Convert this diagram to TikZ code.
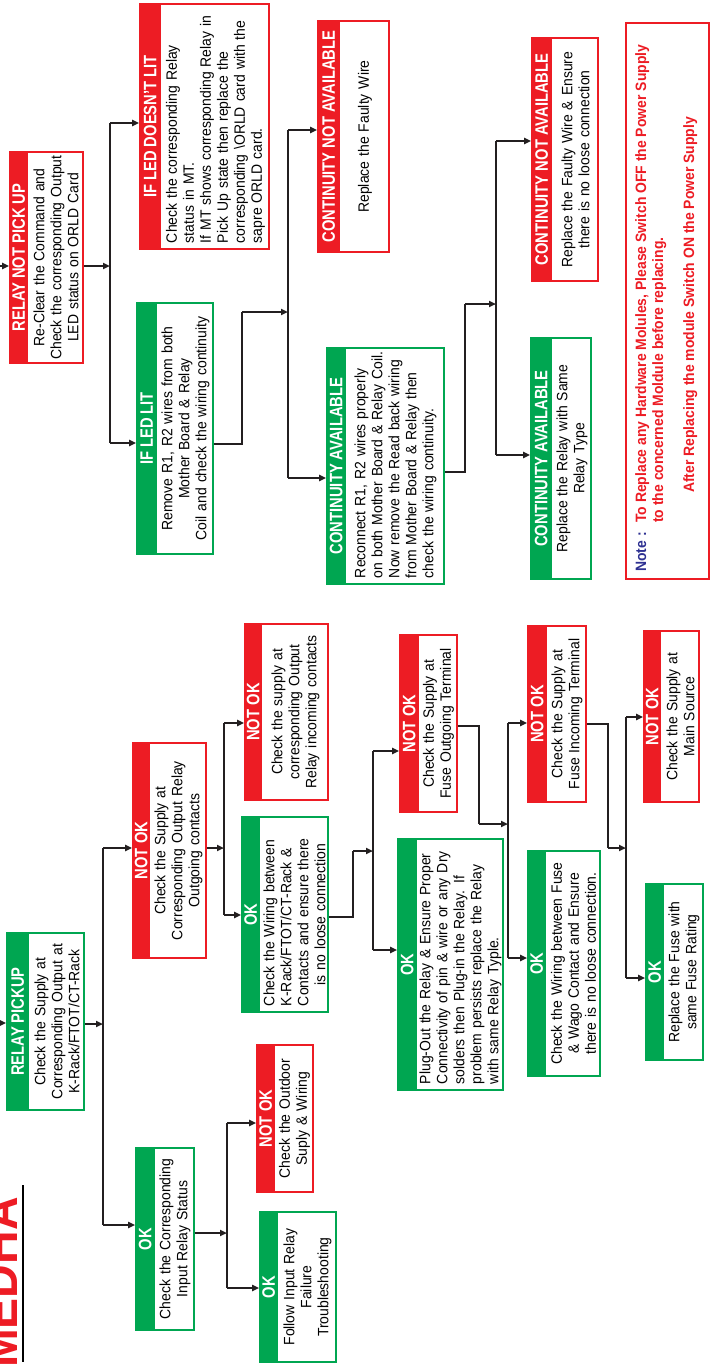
\documentclass[tikz,border=0pt]{standalone}
\usepackage{fontspec}
\setmainfont[FakeStretch=0.93]{Liberation Sans}
\newfontfamily\hdfont[FakeStretch=0.82]{Liberation Sans}
\usetikzlibrary{arrows.meta}
\definecolor{myred}{HTML}{ED1C24}
\definecolor{mygreen}{HTML}{00A651}
\definecolor{linec}{HTML}{231F20}
\definecolor{noteblue}{HTML}{2E3192}
\newcommand\jl[1]{\makebox[\hsize][s]{#1}}
\tikzset{
  boxfr/.style={draw, line width=1.6pt, inner sep=0pt, fill=white},
  hd/.style={rotate=90, text=white, inner sep=0pt, font=\hdfont\bfseries\fontsize{18}{19}\selectfont},
  bd/.style={rotate=90, inner sep=0pt, align=center, font=\fontsize{15}{17}\selectfont},
  nt/.style={rotate=90, inner sep=0pt, anchor=base west, font=\bfseries\fontsize{15}{17}\selectfont},
  ln/.style={draw=linec, line width=1.8pt},
  arr/.style={ln, -{Triangle[length=7pt,width=6pt]}},
}
% name, colour, cx, cy, w, h, header width, header
\newcommand\flowbox[8]{%
  \node[boxfr, draw=#2, minimum width=#5pt, minimum height=#6pt] (#1) at (#3,#4) {};
  \fill[#2] (#1.north west) rectangle ([xshift=#7pt]#1.south west);
  \node[hd] (#1-h) at ([xshift=#7pt/2]#1.west) {#8};
}
\begin{document}
\begin{tikzpicture}[x=1pt,y=-1pt]
\hyphenpenalty=10000 \exhyphenpenalty=10000
\fill[white] (0,0) rectangle (711,1365);
\useasboundingbox (0,0) rectangle (711,1365);

% ---------- logo ----------
\node[rotate=90, anchor=base west, inner sep=0pt, text=myred, font=\bfseries\fontsize{50}{50}\selectfont] (logo) at (17,1368) {MEDHA};
\draw[black, line width=1.2pt] (23,1185) -- (23,1362);

% ---------- upper part: relay not pick up ----------
\flowbox{T1}{myred}{46.5}{257.5}{73}{211}{19}{RELAY NOT PICK UP}
\node[bd, text width=207pt] at ([xshift=9.5pt]T1.center) {Re-Clear the Command and\\Check the corresponding Output\\LED status on ORLD Card};

\flowbox{T2}{myred}{204.5}{126.5}{129}{245}{22}{IF LED DOESN’T LIT}
\node[bd, align=left, text width=233pt] at ([xshift=11pt]T2.center) {\jl{Check the corresponding Relay}\\status in MT.\\\jl{If MT shows corresponding Relay in}\\\jl{Pick Up state then replace the}\\\jl{corresponding \textbackslash ORLD card with the}\\sapre ORLD card.};

\flowbox{T3}{mygreen}{175}{428.5}{76}{251}{21}{IF LED LIT}
\node[bd, text width=239pt] at ([xshift=10.5pt]T3.center) {Remove R1, R2 wires from both\\Mother Board \& Relay\\Coil and check the wiring continuity};

\flowbox{T4}{myred}{353.5}{136.5}{71}{231}{23}{CONTINUITY NOT AVAILABLE}
\node[bd, text width=219pt] at ([xshift=11.5pt]T4.center) {Replace the Faulty Wire};

\flowbox{T5}{mygreen}{385.5}{466}{117}{236}{20}{CONTINUITY AVAILABLE}
\node[bd, align=left, text width=224pt] at ([xshift=10pt]T5.center) {\jl{Reconnect R1, R2 wires properly}\\\jl{on both Mother Board \& Relay Coil.}\\\jl{Now remove the Read back wiring}\\\jl{from Mother Board \& Relay then}\\check the wiring continuity.};

\flowbox{T6}{myred}{565}{159.5}{66}{243}{21}{CONTINUITY NOT AVAILABLE}
\node[bd, text width=231pt] at ([xshift=10.5pt]T6.center) {Replace the Faulty Wire \& Ensure\\there is no loose connection};

\flowbox{T7}{mygreen}{561}{458.5}{60}{241}{22}{CONTINUITY AVAILABLE}
\node[bd, text width=229pt] at ([xshift=11pt]T7.center) {Replace the Relay with Same\\Relay Type};

% note
\node[boxfr, draw=myred, minimum width=83pt, minimum height=556pt] (note) at (667.5,301) {};
\node[nt, text=noteblue] (nt0) at (646,572) {Note :};
\node[nt, text=myred] (nt1) at (646,523) {To Replace any Hardware Molules, Please Switch OFF the Power Supply};
\node[nt, text=myred] (nt2) at (663,523) {to the concerned Moldule before replacing.};
\node[nt, text=myred] (nt3) at (694,493) {After Replacing the module Switch ON the Power Supply};

% ---------- lower part: relay pickup ----------
\flowbox{B1}{mygreen}{45.5}{1021.5}{77}{177}{23}{RELAY PICKUP}
\node[bd, text width=165pt] at ([xshift=11.5pt]B1.center) {Check the Supply at\\Corresponding Output at\\K-Rack/FTOT/CT-Rack};

\flowbox{B2}{mygreen}{165}{1239}{58}{182}{20}{OK}
\node[bd, text width=170pt] at ([xshift=10pt]B2.center) {Check the Corresponding\\Input Relay Status};

\flowbox{B3}{myred}{285}{1118.5}{56}{147}{19}{NOT OK}
\node[bd, text width=135pt] at ([xshift=9.5pt]B3.center) {Check the Outdoor\\Suply \& Wiring};

\flowbox{B4}{mygreen}{298}{1287}{76}{150}{19}{OK}
\node[bd, text width=138pt] at ([xshift=9.5pt]B4.center) {Follow Input Relay\\Failure\\Troubleshooting};

\flowbox{B5}{myred}{169.5}{850.5}{73}{215}{18}{NOT OK}
\node[bd, text width=203pt] at ([xshift=9pt]B5.center) {Check the Supply at\\Corresponding Output Relay\\Outgoing contacts};

\flowbox{B6}{myred}{286.5}{712}{83}{176}{18}{NOT OK}
\node[bd, text width=164pt] at ([xshift=9pt]B6.center) {Check the supply at\\corresponding Output\\Relay incoming contacts};

\flowbox{B7}{mygreen}{285}{914.5}{86}{195}{19}{OK}
\node[bd, text width=183pt] at ([xshift=9.5pt]B7.center) {\jl{Check the Wiring between}\\\jl{K-Rack/FTOT/CT-Rack \&}\\\jl{Contacts and ensure there}\\is no loose connection};

\flowbox{B8}{myred}{428.5}{723.5}{57}{177}{20}{NOT OK}
\node[bd, text width=165pt] at ([xshift=10pt]B8.center) {Check the Supply at\\Fuse Outgoing Terminal};

\flowbox{B9}{mygreen}{450.5}{964.5}{105}{251}{20}{OK}
\node[bd, align=left, text width=239pt] at ([xshift=10pt]B9.center) {\jl{Plug-Out the Relay \& Ensure Proper}\\\jl{Connectivity of pin \& wire or any Dry}\\\jl{solders then Plug-in the Relay. If}\\\jl{problem persists replace the Relay}\\with same Relay Typle.};

\flowbox{B10}{myred}{557}{714}{58}{176}{20}{NOT OK}
\node[bd, text width=164pt] at ([xshift=10pt]B10.center) {Check the Supply at\\Fuse Incoming Terminal};

\flowbox{B11}{mygreen}{564}{963.5}{72}{225}{19}{OK}
\node[bd, text width=213pt] at ([xshift=9.5pt]B11.center) {Check the Wiring between Fuse\\\& Wago Contact and Ensure\\there is no loose connection.};

\flowbox{B12}{myred}{671.5}{716.5}{55}{171}{18}{NOT OK}
\node[bd, text width=159pt] at ([xshift=9pt]B12.center) {Check the Supply at\\Main Source};

\flowbox{B13}{mygreen}{674.5}{972}{57}{176}{19}{OK}
\node[bd, text width=164pt] at ([xshift=9.5pt]B13.center) {Replace the Fuse with\\same Fuse Rating};

% ---------- connectors: upper ----------
\coordinate (inT1) at (0,266);
\draw[arr] (inT1) -- (inT1 -| T1.west);
\coordinate (a1) at (110,266);
\coordinate (a2) at (110,123);
\coordinate (a3) at (110,443);
\draw[arr] (T1.east |- a1) -- (a1);
\draw[ln] (a2) -- (a3);
\draw[arr] (a2) -- (a2 -| T2.west);
\draw[arr] (a3) -- (a3 -| T3.west);

\coordinate (b1) at (242,444);
\coordinate (b2) at (242,312);
\coordinate (b3) at (288,312);
\draw[ln] (T3.east |- b1) -- (b1) -- (b2);
\draw[arr] (b2) -- (b3);
\coordinate (c1) at (288,130);
\coordinate (c2) at (288,478);
\draw[ln] (c1) -- (c2);
\draw[arr] (c1) -- (c1 -| T4.west);
\draw[arr] (c2) -- (c2 -| T5.west);

\coordinate (d1) at (465,472);
\coordinate (d2) at (465,304);
\coordinate (d3) at (496,304);
\draw[ln] (T5.east |- d1) -- (d1) -- (d2);
\draw[arr] (d2) -- (d3);
\coordinate (e1) at (496,141);
\coordinate (e2) at (496,455);
\draw[ln] (e1) -- (e2);
\draw[arr] (e1) -- (e1 -| T6.west);
\draw[arr] (e2) -- (e2 -| T7.west);

% ---------- connectors: lower ----------
\coordinate (inB1) at (0,1023);
\draw[arr] (inB1) -- (inB1 -| B1.west);
\coordinate (f1) at (103,1024);
\coordinate (f2) at (103,848);
\coordinate (f3) at (103,1225);
\draw[arr] (B1.east |- f1) -- (f1);
\draw[ln] (f2) -- (f3);
\draw[arr] (f2) -- (f2 -| B5.west);
\draw[arr] (f3) -- (f3 -| B2.west);

\coordinate (g1) at (227,1233);
\coordinate (g2) at (227,1123);
\coordinate (g3) at (227,1288);
\draw[arr] (B2.east |- g1) -- (g1);
\draw[ln] (g2) -- (g3);
\draw[arr] (g2) -- (g2 -| B3.west);
\draw[arr] (g3) -- (g3 -| B4.west);

\coordinate (h1) at (224,848);
\coordinate (h2) at (224,723);
\coordinate (h3) at (224,915);
\draw[arr] (B5.east |- h1) -- (h1);
\draw[ln] (h2) -- (h3);
\draw[arr] (h2) -- (h2 -| B6.west);
\draw[arr] (h3) -- (h3 -| B7.west);

\coordinate (i1) at (353,917);
\coordinate (i2) at (353,851);
\coordinate (i3) at (373,851);
\draw[ln] (B7.east |- i1) -- (i1) -- (i2);
\draw[arr] (i2) -- (i3);
\coordinate (j1) at (373,751);
\coordinate (j2) at (373,950);
\draw[ln] (j1) -- (j2);
\draw[arr] (j1) -- (j1 -| B8.west);
\draw[arr] (j2) -- (j2 -| B9.west);

\coordinate (k1) at (479,726);
\coordinate (k2) at (479,824);
\coordinate (k3) at (508,824);
\draw[ln] (B8.east |- k1) -- (k1) -- (k2);
\draw[arr] (k2) -- (k3);
\coordinate (l1) at (508,723);
\coordinate (l2) at (508,958);
\draw[ln] (l1) -- (l2);
\draw[arr] (l1) -- (l1 -| B10.west);
\draw[arr] (l2) -- (l2 -| B11.west);

\coordinate (m1) at (608,724);
\coordinate (m2) at (608,848);
\coordinate (m3) at (626,848);
\draw[ln] (B10.east |- m1) -- (m1) -- (m2);
\draw[arr] (m2) -- (m3);
\coordinate (n1) at (626,717);
\coordinate (n2) at (626,978);
\draw[ln] (n1) -- (n2);
\draw[arr] (n1) -- (n1 -| B12.west);
\draw[arr] (n2) -- (n2 -| B13.west);
\end{tikzpicture}
\end{document}
